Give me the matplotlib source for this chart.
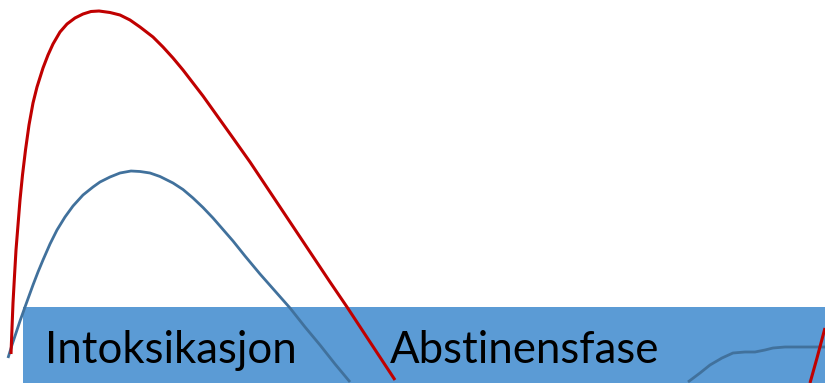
import matplotlib
matplotlib.use("Agg")
import matplotlib.pyplot as plt
from matplotlib.patches import Rectangle

# Data (time units horizontally, level units vertically)
red_t = [11, 12, 13, 14.5, 16, 18, 20, 22.5, 25.5, 29, 33, 37, 43, 48, 53, 60, 67, 75, 83, 91, 99,
         110, 120, 130, 140, 153, 163, 173, 183, 193, 203, 213, 223, 233, 250, 270, 300, 330, 347, 370, 395]
red_v = [29, 55, 80, 107, 133, 158, 183, 208, 233, 258, 280, 296, 315, 328, 339, 351, 359, 365, 369, 371.5, 372,
         370.5, 368, 363, 356, 346, 336, 325, 313, 300, 287, 273, 259, 245, 221, 191, 146, 101, 76, 41, 3]
blue_t = [8, 12, 16, 20, 25, 29, 33, 38, 43, 50, 57, 65, 73, 83, 93, 100, 110, 120, 131, 140, 150,
          160, 173, 183, 193, 203, 213, 223, 233, 245, 260, 275, 290, 305, 320, 335, 350]
blue_v = [25, 38, 50, 62, 76, 87, 98, 111, 123, 139, 153, 166, 177, 188, 196, 201, 206, 210, 212, 211.5, 210,
          206.5, 200, 193.5, 185, 175.5, 165, 153.5, 142, 127, 109, 92, 75, 56, 38, 19, 1]
blue2_t = [688, 700, 710, 722, 733, 745, 755, 765, 773, 785, 800, 825]
blue2_v = [1, 10, 18, 25, 30, 31, 31, 33, 35, 36, 36, 36]
red2_t = [810, 817, 825]
red2_v = [0, 25, 55]
phase_labels = ["Intoksikasjon", "Abstinensfase"]
phase_x = [45, 390]

fig = plt.figure(figsize=(8.25, 3.83), dpi=100)
ax = fig.add_axes([0, 0, 1, 1])
ax.set_xlim(0, 825)
ax.set_ylim(0, 383)
ax.axis("off")

ax.add_patch(Rectangle((23, 0), 802, 76, facecolor="#5B9BD5", edgecolor="none", zorder=1))

for lbl, x in zip(phase_labels, phase_x):
    ax.text(x, 20, lbl, fontsize=31.5, family="Lato", color="black", ha="left", va="baseline", zorder=2)

kw = dict(solid_capstyle="butt", solid_joinstyle="round")
ax.plot(blue_t, blue_v, color="#41719C", lw=2.0, zorder=3, **kw)
ax.plot(blue2_t, blue2_v, color="#41719C", lw=2.0, zorder=3, **kw)
ax.plot(red_t, red_v, color="#C00000", lw=2.2, zorder=4, **kw)
ax.plot(red2_t, red2_v, color="#C00000", lw=2.2, zorder=4, **kw)

fig.savefig("out.png", dpi=100)
